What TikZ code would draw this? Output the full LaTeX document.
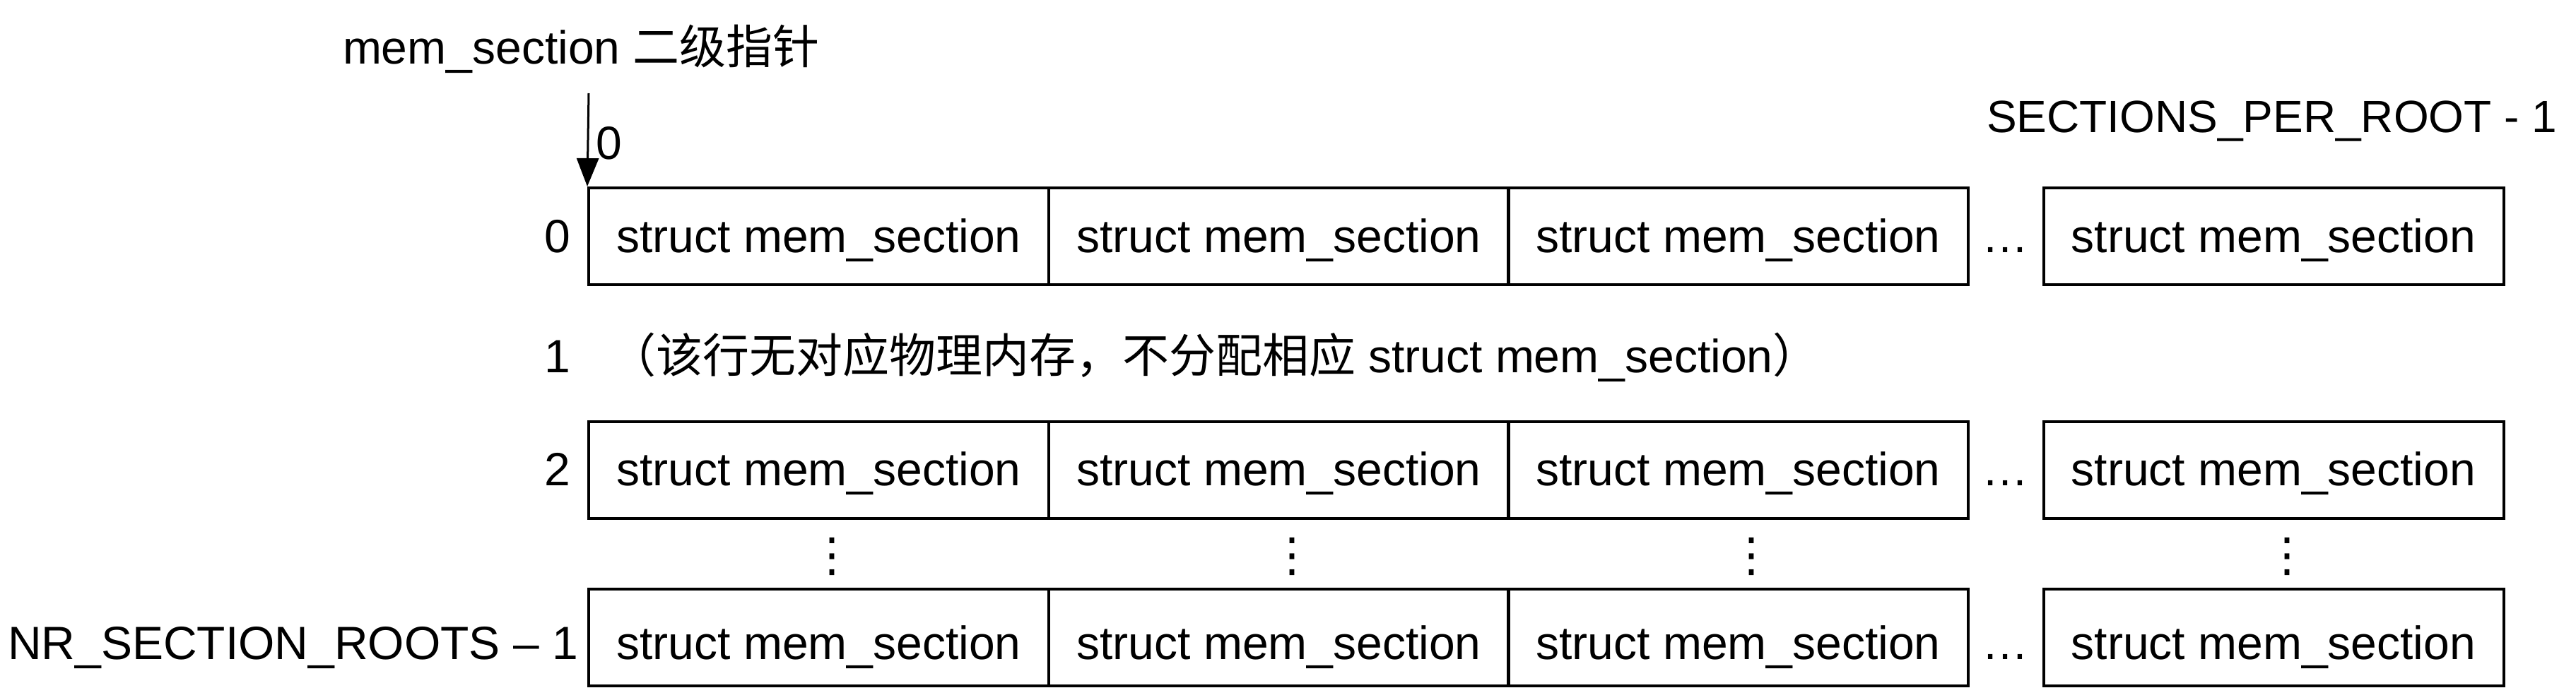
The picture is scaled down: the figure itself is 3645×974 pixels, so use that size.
\documentclass[tikz,border=0pt]{standalone}
\usepackage{fontspec}
\setmainfont{Liberation Sans}
\newfontfamily\cjk{Noto Sans CJK SC}
\newfontfamily\symfont{DejaVu Sans}
\usetikzlibrary{arrows.meta}
\tikzset{
  basefont/.style={font=\fontsize{13.2}{15}\selectfont},
  cell/.style={draw, line width=0.8pt, minimum width=130.2pt, minimum height=27.4pt,
    inner sep=0pt, text height=9pt, text depth=0pt, basefont},
  lastcell/.style={cell, text height=12.2pt},
  lbl/.style={inner sep=0pt, basefont},
  vdotsnode/.style={inner sep=0pt, font=\symfont\fontsize{13.2}{15}\selectfont},
  ptr/.style={-{Triangle[width=6.2pt,length=8pt]}, line width=0.6pt},
}
\begin{document}
\begin{tikzpicture}[x=0.2pt, y=-0.2pt]
\useasboundingbox (0,0) rectangle (3645,974);

% title and pointer
\node[lbl, anchor=base west] (title) at (484,90) {mem\_section {\cjk 二级指针}};
\node[lbl, anchor=base west, font=\fontsize{12.8}{15}\selectfont] (spr) at (2810,187) {SECTIONS\_PER\_ROOT - 1};

% row 0
\node[cell] (r0c1) at (1158.5,334.5) {struct mem\_section};
\node[cell] (r0c2) at (1809.5,334.5) {struct mem\_section};
\node[cell] (r0c3) at (2459.5,334.5) {struct mem\_section};
\node[lbl, anchor=base] (r0e) at (2837,357) {…};
\node[cell] (r0c4) at (3217,334.5) {struct mem\_section};
\node[lbl, anchor=base east] (l0) at (808,357) {0};

\coordinate (ptop) at (833,132);
\draw[ptr] (ptop) -- (r0c1.north west);
\node[lbl, anchor=base west] (idx0) at (842,225) {0};

% row 1
\node[lbl, anchor=base east] (l1) at (808,527) {1};
\node[lbl, anchor=base west] (note) at (861,527) {{\cjk （该行无对应物理内存，不分配相应} struct mem\_section{\cjk ）}};

% row 2
\node[cell] (r2c1) at (1158.5,665) {struct mem\_section};
\node[cell] (r2c2) at (1809.5,665) {struct mem\_section};
\node[cell] (r2c3) at (2459.5,665) {struct mem\_section};
\node[lbl, anchor=base] (r2e) at (2837,687) {…};
\node[cell] (r2c4) at (3217,665) {struct mem\_section};
\node[lbl, anchor=base east] (l2) at (808,687) {2};

% vertical dots
\node[vdotsnode] (v1) at (1177,788) {⋮};
\node[vdotsnode] (v2) at (1828,788) {⋮};
\node[vdotsnode] (v3) at (2478,788) {⋮};
\node[vdotsnode] (v4) at (3236,788) {⋮};

% last row
\node[lastcell] (rnc1) at (1158.5,902.5) {struct mem\_section};
\node[lastcell] (rnc2) at (1809.5,902.5) {struct mem\_section};
\node[lastcell] (rnc3) at (2459.5,902.5) {struct mem\_section};
\node[lbl, anchor=base] (rne) at (2837,933) {…};
\node[lastcell] (rnc4) at (3217,902.5) {struct mem\_section};
\node[lbl, anchor=base east] (ln) at (819,933) {NR\_SECTION\_ROOTS – 1};
\end{tikzpicture}
\end{document}
